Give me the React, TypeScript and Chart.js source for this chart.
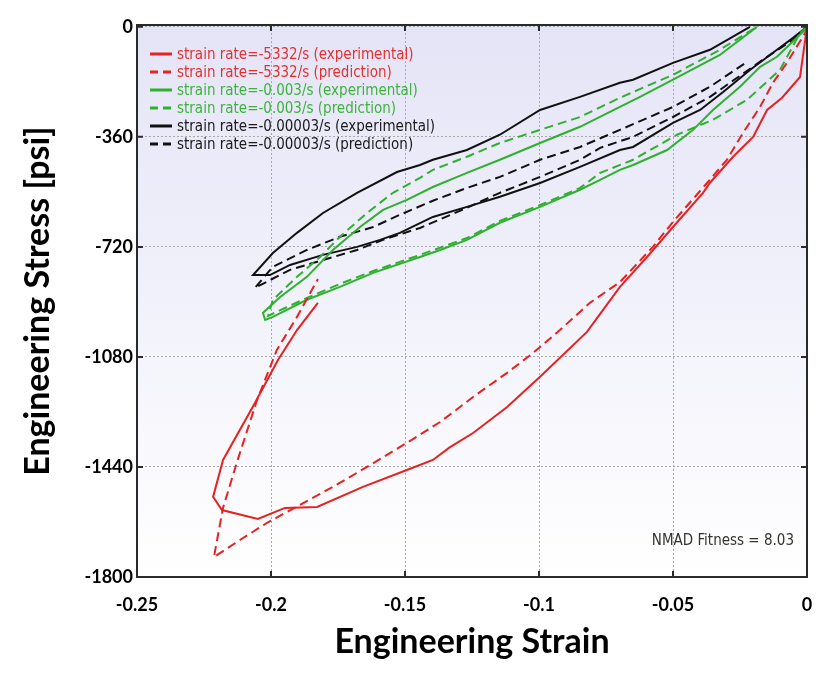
import React, { useEffect, useRef } from 'react';
import { Chart, registerables } from 'chart.js';

Chart.register(...registerables);

// Axis ticks
const X_TICKS = [-0.25, -0.2, -0.15, -0.1, -0.05, 0];
const X_TICK_LABELS = ['-0.25', '-0.2', '-0.15', '-0.1', '-0.05', '0'];
const Y_TICKS = [0, -360, -720, -1080, -1440, -1800];
const Y_TICK_LABELS = ['0', '-360', '-720', '-1080', '-1440', '-1800'];

const SERIES_LABELS = [
  'strain rate=-5332/s (experimental)',
  'strain rate=-5332/s (prediction)',
  'strain rate=-0.003/s (experimental)',
  'strain rate=-0.003/s (prediction)',
  'strain rate=-0.00003/s (experimental)',
  'strain rate=-0.00003/s (prediction)',
];

// Red: -5332/s experimental
const RED_EXP_STRAIN = [0, -0.0026, -0.0093, -0.0149, -0.0201, -0.0276, -0.0362, -0.0388, -0.05, -0.0597, -0.0698, -0.0821, -0.0996, -0.1119, -0.1246, -0.1332, -0.1396, -0.1493, -0.1657, -0.1828, -0.1948, -0.2049, -0.2183, -0.2216, -0.2179, -0.206, -0.1974, -0.1903, -0.1825];
const RED_EXP_STRESS = [0, -164, -232, -272, -360, -425, -510, -543, -655, -753, -851, -998, -1145, -1244, -1329, -1375, -1417, -1450, -1505, -1571, -1574, -1610, -1581, -1538, -1417, -1231, -1090, -992, -903];

// Red: -5332/s prediction
const RED_PRED_STRAIN = [0, -0.0007, -0.0075, -0.0127, -0.0175, -0.0239, -0.0299, -0.0373, -0.05, -0.0575, -0.0698, -0.081, -0.0922, -0.1022, -0.1119, -0.1246, -0.1369, -0.1493, -0.1642, -0.1769, -0.1892, -0.2015, -0.2116, -0.2213, -0.2179, -0.2127, -0.2052, -0.1978, -0.1903, -0.1825];
const RED_PRED_STRESS = [0, -20, -118, -183, -262, -347, -435, -511, -638, -720, -835, -903, -992, -1067, -1132, -1211, -1293, -1361, -1440, -1505, -1564, -1623, -1679, -1735, -1574, -1424, -1221, -1057, -949, -825];

// Green: -0.003/s experimental
const GREEN_EXP_STRAIN = [0, -0.0015, -0.0112, -0.0175, -0.025, -0.0351, -0.0425, -0.0522, -0.0649, -0.0698, -0.0772, -0.0847, -0.0996, -0.1146, -0.1269, -0.1369, -0.1444, -0.1619, -0.1743, -0.1866, -0.1993, -0.2022, -0.203, -0.1966, -0.1866, -0.1769, -0.1668, -0.1582, -0.1493, -0.1396, -0.1269, -0.1146, -0.0996, -0.0847, -0.0698, -0.0623, -0.05, -0.0325, -0.0187];
const GREEN_EXP_STRESS = [0, -16, -98, -131, -196, -272, -337, -403, -452, -468, -501, -533, -589, -641, -697, -730, -753, -805, -851, -893, -949, -959, -936, -884, -818, -730, -655, -599, -566, -524, -478, -435, -380, -327, -262, -229, -173, -92, 0];

// Green: -0.003/s prediction
const GREEN_PRED_STRAIN = [0, -0.0026, -0.0101, -0.0224, -0.0351, -0.0485, -0.0649, -0.0772, -0.0847, -0.0996, -0.1146, -0.1269, -0.1444, -0.1619, -0.1743, -0.1866, -0.1948, -0.2011, -0.1993, -0.1903, -0.1817, -0.1743, -0.1642, -0.1545, -0.1444, -0.1396, -0.1269, -0.1146, -0.0996, -0.0847, -0.0698, -0.05, -0.0325, -0.0187];
const GREEN_PRED_STRESS = [0, -20, -141, -239, -304, -353, -435, -478, -527, -583, -635, -691, -746, -799, -841, -887, -920, -946, -893, -818, -753, -687, -609, -543, -494, -468, -425, -380, -337, -295, -232, -157, -75, 0];

// Black: -0.00003/s experimental
const BLACK_EXP_STRAIN = [0, -0.0052, -0.0112, -0.0213, -0.0313, -0.0399, -0.05, -0.0649, -0.0698, -0.0847, -0.0996, -0.1146, -0.1269, -0.1396, -0.1519, -0.1593, -0.1679, -0.1806, -0.1929, -0.2004, -0.2067, -0.1993, -0.1903, -0.1806, -0.1679, -0.153, -0.1444, -0.1396, -0.1269, -0.1146, -0.0996, -0.0847, -0.0698, -0.0649, -0.05, -0.0362, -0.0213];
const BLACK_EXP_STRESS = [0, -36, -75, -141, -213, -272, -314, -393, -403, -458, -511, -556, -589, -622, -674, -697, -720, -746, -779, -812, -812, -740, -674, -609, -543, -475, -452, -435, -403, -353, -272, -229, -183, -173, -118, -75, 0];

// Black: -0.00003/s prediction
const BLACK_PRED_STRAIN = [0, -0.0052, -0.0149, -0.0362, -0.05, -0.0649, -0.0772, -0.0847, -0.0996, -0.1146, -0.1269, -0.1444, -0.1582, -0.1679, -0.1806, -0.1929, -0.206, -0.1993, -0.1866, -0.1743, -0.1619, -0.1519, -0.1396, -0.1269, -0.1146, -0.0996, -0.0847, -0.0698, -0.05, -0.0362, -0.0224];
const BLACK_PRED_STRESS = [0, -43, -98, -229, -295, -360, -396, -435, -491, -543, -592, -658, -697, -730, -763, -795, -854, -785, -730, -687, -655, -615, -569, -527, -491, -435, -393, -337, -262, -196, -115];

const RED = '#e52222';
const GREEN = '#2fb02f';
const BLACK = '#111111';
const DASH = [9, 5];

const pts = (xs: number[], ys: number[]) => xs.map((x, i) => ({ x, y: ys[i] }));

export default function App() {
  const ref = useRef<HTMLCanvasElement>(null);

  useEffect(() => {
    const canvas = ref.current!;
    const mk = (i: number, xs: number[], ys: number[], color: string, dashed: boolean) => ({
      label: SERIES_LABELS[i],
      data: pts(xs, ys),
      showLine: true,
      borderColor: color,
      backgroundColor: color,
      borderWidth: 2,
      borderDash: dashed ? DASH : [],
      pointRadius: 0,
      tension: 0,
      fill: false,
    });

    const textColors = ['#e53030', '#e53030', '#3cb43c', '#3cb43c', '#1a1a1a', '#1a1a1a'];

    const deco = {
      id: 'deco',
      beforeDraw(chart: any) {
        const { ctx, chartArea: a } = chart;
        const g = ctx.createLinearGradient(0, a.top, 0, a.bottom);
        g.addColorStop(0, '#e4e4f7');
        g.addColorStop(1, '#ffffff');
        ctx.save();
        ctx.fillStyle = g;
        ctx.fillRect(a.left, a.top, a.right - a.left, a.bottom - a.top);
        ctx.restore();
      },
      afterDraw(chart: any) {
        const { ctx, chartArea: a, scales } = chart;
        ctx.save();
        // frame
        ctx.strokeStyle = '#2a2a2a';
        ctx.lineWidth = 2;
        ctx.setLineDash([]);
        ctx.strokeRect(a.left, a.top, a.right - a.left, a.bottom - a.top);
        // inward tick marks
        X_TICKS.forEach((v) => {
          const px = scales.x.getPixelForValue(v);
          ctx.beginPath();
          ctx.moveTo(px, a.bottom); ctx.lineTo(px, a.bottom - 6);
          ctx.moveTo(px, a.top); ctx.lineTo(px, a.top + 6);
          ctx.stroke();
        });
        Y_TICKS.forEach((v) => {
          const py = scales.y.getPixelForValue(v);
          ctx.beginPath();
          ctx.moveTo(a.left, py); ctx.lineTo(a.left + 6, py);
          ctx.moveTo(a.right, py); ctx.lineTo(a.right - 6, py);
          ctx.stroke();
        });
        // legend
        ctx.font = '15px "DejaVu Sans Condensed"';
        ctx.textBaseline = 'middle';
        ctx.textAlign = 'left';
        chart.data.datasets.forEach((ds: any, i: number) => {
          const y = 54 + 18 * i;
          ctx.strokeStyle = ds.borderColor;
          ctx.lineWidth = 3;
          ctx.setLineDash(ds.borderDash.length ? [8, 5] : []);
          ctx.beginPath();
          ctx.moveTo(150, y); ctx.lineTo(172, y);
          ctx.stroke();
          ctx.setLineDash([]);
          ctx.fillStyle = textColors[i];
          ctx.fillText(ds.label, 177, y + 1);
        });
        // annotation
        ctx.font = '15px "DejaVu Sans Condensed"';
        ctx.fillStyle = '#333333';
        ctx.textAlign = 'right';
        ctx.fillText('NMAD Fitness = 8.03', a.right - 13, 541);
        ctx.restore();
      },
    };

    const tickFont = { family: 'Lato', weight: 'bold' as const, size: 18 };
    const titleFont = { family: 'Lato', weight: 'bold' as const, size: 34, lineHeight: 1 };

    const chart = new Chart(canvas, {
      type: 'scatter',
      data: {
        datasets: [
          mk(0, RED_EXP_STRAIN, RED_EXP_STRESS, RED, false),
          mk(1, RED_PRED_STRAIN, RED_PRED_STRESS, RED, true),
          mk(2, GREEN_EXP_STRAIN, GREEN_EXP_STRESS, GREEN, false),
          mk(3, GREEN_PRED_STRAIN, GREEN_PRED_STRESS, GREEN, true),
          mk(4, BLACK_EXP_STRAIN, BLACK_EXP_STRESS, BLACK, false),
          mk(5, BLACK_PRED_STRAIN, BLACK_PRED_STRESS, BLACK, true),
        ] as any,
      },
      options: {
        animation: false,
        responsive: false,
        maintainAspectRatio: false,
        layout: { padding: { left: 0, top: 25, right: 33, bottom: 0 } },
        plugins: { legend: { display: false }, tooltip: { enabled: false } },
        scales: {
          x: {
            type: 'linear',
            min: -0.25,
            max: 0,
            afterBuildTicks: (s: any) => { s.ticks = X_TICKS.map((v) => ({ value: v })); },
            afterFit: (s: any) => { s.height = 99; },
            ticks: {
              autoSkip: false,
              maxRotation: 0,
              padding: 17,
              color: '#000',
              font: tickFont,
              callback: (v: any) => X_TICK_LABELS[X_TICKS.findIndex((t) => Math.abs(t - v) < 1e-9)] ?? '',
            },
            grid: { color: '#a8a8a8', lineWidth: 1, drawTicks: false },
            border: { display: false, dash: [2, 2] },
            title: { display: true, text: 'Engineering Strain', color: '#000', font: titleFont, padding: { top: 0, bottom: 17 } },
          },
          y: {
            type: 'linear',
            min: -1800,
            max: 6,
            afterBuildTicks: (s: any) => { s.ticks = Y_TICKS.map((v) => ({ value: v })); },
            afterFit: (s: any) => { s.width = 137; },
            ticks: {
              autoSkip: false,
              padding: 4,
              color: '#000',
              font: tickFont,
              callback: (v: any) => Y_TICK_LABELS[Y_TICKS.findIndex((t) => Math.abs(t - v) < 1e-9)] ?? '',
            },
            grid: { color: '#a8a8a8', lineWidth: 1, drawTicks: false },
            border: { display: false, dash: [2, 2] },
            title: { display: true, text: 'Engineering Stress [psi]', color: '#000', font: titleFont, padding: { top: 21, bottom: 0 } },
          },
        },
      },
      plugins: [deco],
    });

    return () => chart.destroy();
  }, []);

  return (
    <div style={{ position: 'fixed', left: 0, top: 0, width: 840, height: 676, background: '#fff' }}>
      <canvas ref={ref} width={840} height={676} style={{ width: 840, height: 676, display: 'block' }} />
    </div>
  );
}
